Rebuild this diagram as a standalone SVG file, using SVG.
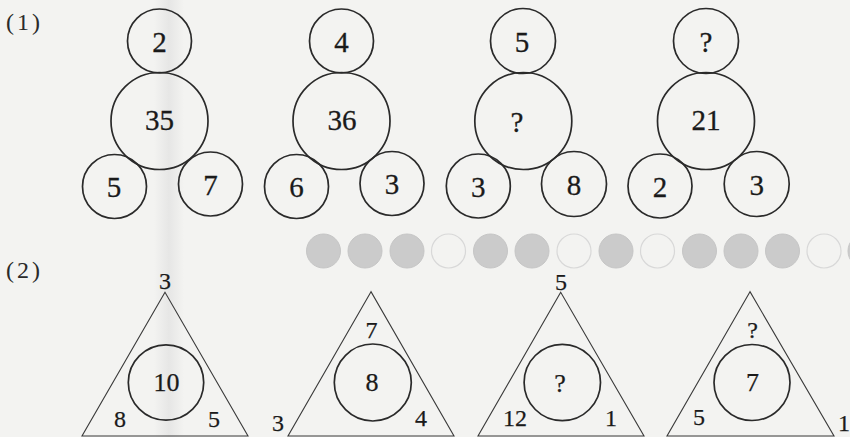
<svg xmlns="http://www.w3.org/2000/svg" width="850" height="437" viewBox="0 0 850 437">
<defs>
<style>
.c{fill:none;stroke:#2a2a2a;stroke-width:1.7}
.t{fill:none;stroke:#3a3a3a;stroke-width:1.1}
.n{font-family:"Liberation Serif","Times New Roman",serif;font-size:29px;fill:#1a1a1a;stroke:#1a1a1a;stroke-width:0.3;text-anchor:middle}
.m{font-family:"Liberation Serif","Times New Roman",serif;font-size:26px;fill:#1a1a1a;stroke:#1a1a1a;stroke-width:0.25;text-anchor:middle}
.s{font-family:"Liberation Serif","Times New Roman",serif;font-size:24px;fill:#1a1a1a;stroke:#1a1a1a;stroke-width:0.25;text-anchor:middle}
.lbl{font-family:"Liberation Serif","Times New Roman",serif;font-size:24px;fill:#2a2a2a;letter-spacing:3px}
.bf{fill:#cbcbcb;stroke:#c6c6c6;stroke-width:1}
.bh{fill:none;stroke:#d8d8d8;stroke-width:1.2}
</style>
<linearGradient id="band" x1="0" x2="1" y1="0" y2="0">
<stop offset="0" stop-color="#dcdcdc" stop-opacity="0"/>
<stop offset="0.5" stop-color="#dcdcdc" stop-opacity="0.55"/>
<stop offset="1" stop-color="#dcdcdc" stop-opacity="0"/>
</linearGradient>
</defs>
<rect x="0" y="0" width="850" height="437" fill="#f3f3f1"/>
<rect x="154" y="0" width="30" height="437" fill="url(#band)"/>
<g id="bleed-circles">
<circle class="bf" cx="323.5" cy="251" r="17"/>
<circle class="bf" cx="365" cy="251" r="17"/>
<circle class="bf" cx="407" cy="251" r="17"/>
<circle class="bh" cx="448.5" cy="251" r="17"/>
<circle class="bf" cx="490.5" cy="251" r="17"/>
<circle class="bf" cx="532" cy="251" r="17"/>
<circle class="bh" cx="574" cy="251" r="17"/>
<circle class="bf" cx="616" cy="251" r="17"/>
<circle class="bh" cx="657.5" cy="251" r="17"/>
<circle class="bf" cx="699.5" cy="251" r="17"/>
<circle class="bf" cx="741" cy="251" r="17"/>
<circle class="bf" cx="782.5" cy="251" r="17"/>
<circle class="bh" cx="824" cy="251" r="17"/>
<circle class="bf" cx="865" cy="251" r="17"/>
</g>
<g id="label-1"><text class="lbl" x="6" y="30">(1)</text></g>
<g id="label-2"><text class="lbl" x="6" y="278">(2)</text></g>

<g id="group1">
<circle class="c" cx="159.5" cy="41" r="32"/><text class="n" x="159.5" y="51.5">2</text>
<circle class="c" cx="159.5" cy="121" r="48.5"/><text class="n" x="159.5" y="130">35</text>
<circle class="c" cx="114.5" cy="186.5" r="32"/><text class="n" x="114" y="196.5">5</text>
<circle class="c" cx="210.5" cy="184" r="32"/><text class="n" x="210.5" y="195">7</text>
</g>
<g id="group2">
<circle class="c" cx="341.5" cy="41" r="32"/><text class="n" x="341.5" y="51.5">4</text>
<circle class="c" cx="341.5" cy="121" r="48.5"/><text class="n" x="342" y="130">36</text>
<circle class="c" cx="296.5" cy="186.5" r="32"/><text class="n" x="296.5" y="196.5">6</text>
<circle class="c" cx="392" cy="183.5" r="32"/><text class="n" x="392" y="193.5">3</text>
</g>
<g id="group3">
<circle class="c" cx="523" cy="41" r="32.5"/><text class="n" x="522" y="51.5">5</text>
<circle class="c" cx="523.3" cy="121" r="48.5"/><text class="n" x="517" y="132">?</text>
<circle class="c" cx="478.3" cy="186" r="32"/><text class="n" x="478.3" y="196.5">3</text>
<circle class="c" cx="574" cy="184" r="32.5"/><text class="n" x="574" y="194.5">8</text>
</g>
<g id="group4">
<circle class="c" cx="706" cy="41" r="32.5"/><text class="n" x="706" y="51.5">?</text>
<circle class="c" cx="706" cy="121" r="48.5"/><text class="n" x="706" y="130">21</text>
<circle class="c" cx="660" cy="186" r="32"/><text class="n" x="660" y="196.5">2</text>
<circle class="c" cx="756.7" cy="184" r="32.5"/><text class="n" x="756.7" y="194.5">3</text>
</g>

<g id="tri1">
<polygon class="t" points="165,292.3 82,436 248,436"/>
<circle class="c" cx="166" cy="382.5" r="37.7"/>
<text class="s" x="165" y="289">3</text>
<text class="m" x="166.5" y="391">10</text>
<text class="s" x="120" y="427">8</text>
<text class="s" x="214" y="427">5</text>
</g>
<g id="tri2">
<polygon class="t" points="371,291.7 288,436 454,436"/>
<circle class="c" cx="372.8" cy="382.5" r="38.5"/>
<text class="s" x="371.5" y="338">7</text>
<text class="m" x="372" y="391">8</text>
<text class="s" x="421" y="426">4</text>
<text class="s" x="278" y="431">3</text>
</g>
<g id="tri3">
<polygon class="t" points="560.7,292.3 478,436 644,436"/>
<circle class="c" cx="562.3" cy="382.5" r="38.2"/>
<text class="s" x="561" y="290">5</text>
<text class="m" x="560" y="392">?</text>
<text class="s" x="515" y="426">12</text>
<text class="s" x="611" y="426">1</text>
</g>
<g id="tri4">
<polygon class="t" points="750,291.7 667,436 834,436"/>
<circle class="c" cx="752" cy="382.5" r="38"/>
<text class="s" x="752.5" y="338">?</text>
<text class="m" x="752.5" y="391">7</text>
<text class="s" x="699" y="425">5</text>
<text class="s" x="844" y="431">1</text>
</g>
</svg>
